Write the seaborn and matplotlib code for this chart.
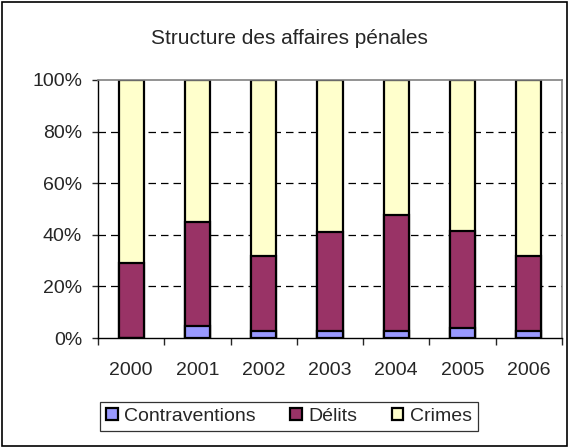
import numpy as np
import pandas as pd
import matplotlib
matplotlib.use('Agg')
import matplotlib.pyplot as plt
import seaborn as sns
from matplotlib.patches import Rectangle, Patch

sns.set_style('white')
plt.rcParams['font.family'] = ['Liberation Sans', 'DejaVu Sans']

years = ['2000', '2001', '2002', '2003', '2004', '2005', '2006']
contraventions = [0.0, 4.5, 2.8, 2.6, 2.6, 3.9, 2.9]
delits = [29.0, 40.3, 28.8, 38.4, 44.9, 37.4, 28.7]
crimes = [100 - c - d for c, d in zip(contraventions, delits)]

colors = {'Contraventions': '#9999FF', 'Délits': '#993366', 'Crimes': '#FFFFCC'}

df = pd.DataFrame({'year': years, 'Contraventions': contraventions,
                   'Délits': delits, 'Crimes': crimes})
# cumul pour empiler les barres
df['top_crimes'] = df['Contraventions'] + df['Délits'] + df['Crimes']
df['top_delits'] = df['Contraventions'] + df['Délits']
df['top_contrav'] = df['Contraventions']

fig = plt.figure(figsize=(5.69, 4.48), dpi=100)
ax = fig.add_axes([0.1722, 0.2455, 0.8155, 0.576])

for col, name in [('top_crimes', 'Crimes'), ('top_delits', 'Délits'), ('top_contrav', 'Contraventions')]:
    sns.barplot(data=df, x='year', y=col, color=colors[name], saturation=1,
                width=0.38, edgecolor='black', linewidth=1.6, ax=ax)

ax.set_ylim(0, 100)
ax.set_xlim(-0.5, 6.5)
ax.set_yticks(np.arange(0, 101, 20))
ax.set_yticklabels([f'{v}%' for v in range(0, 101, 20)], fontsize=14)
ax.set_xticks(range(7))
ax.set_xticklabels(years, fontsize=14)
ax.set_xlabel('')
ax.set_ylabel('')

for y in [20, 40, 60, 80]:
    ax.axhline(y, color='black', linestyle=(0, (6, 4)), linewidth=0.9, zorder=0)

for side in ['top', 'right']:
    ax.spines[side].set_color('#808080')
    ax.spines[side].set_linewidth(1.2)
for side in ['left', 'bottom']:
    ax.spines[side].set_color('black')
    ax.spines[side].set_linewidth(1.0)

ax.tick_params(axis='x', length=0, pad=17)
ax.tick_params(axis='y', length=4.5, width=1, direction='out', left=True, pad=7)
ax.set_xticks(np.arange(-0.5, 7, 1), minor=True)
ax.tick_params(axis='x', which='minor', length=5, width=1, direction='out', bottom=True)

fig.text(0.509, 0.915, 'Structure des affaires pénales', ha='center', va='center', fontsize=15)

handles = [Patch(facecolor=colors[n], edgecolor='black', linewidth=1.6) for n in ['Contraventions', 'Délits', 'Crimes']]
leg = fig.legend(handles, ['Contraventions', 'Délits', 'Crimes'], loc='center',
                 ncol=3, fontsize=14, frameon=True,
                 fancybox=False, edgecolor='black', handlelength=0.6, handleheight=0.6,
                 handletextpad=0.35, columnspacing=1.75, borderpad=0.3)
leg.get_frame().set_linewidth(0.9)
leg.set_bbox_to_anchor((0.508, 1 - 416.5 / 448), transform=fig.transFigure)

fig.patches.append(Rectangle((0.0035, 0.004), 0.993, 0.992, transform=fig.transFigure,
                             fill=False, edgecolor='black', linewidth=1.2))

fig.savefig('out.png', dpi=100)
